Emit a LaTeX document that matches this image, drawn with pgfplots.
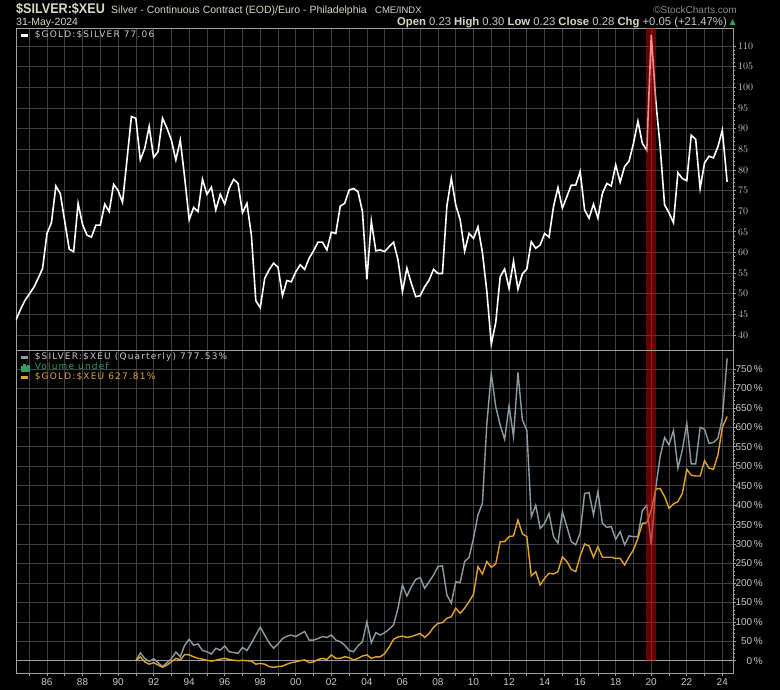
\documentclass[border=0pt]{standalone}
\usepackage{fontspec}
\setmainfont{Liberation Sans}
\newfontfamily\titlefont[FakeStretch=0.9]{Liberation Sans}
\newfontfamily\legfont[LetterSpace=13]{DejaVu Sans}
\newfontfamily\djv{DejaVu Sans}
\usepackage{pgfplots}
\pgfplotsset{compat=1.18}
\usepackage{pgfplotstable}

\definecolor{gridc}{HTML}{404040}
\definecolor{framec}{HTML}{A0A0A0}
\definecolor{lblc}{HTML}{C8C8BE}
\definecolor{silverc}{HTML}{8C9CA4}
\definecolor{goldc}{HTML}{E2A42A}
\definecolor{bandc}{HTML}{E60000}
\definecolor{volc}{HTML}{2E9E62}
\definecolor{hdrc}{HTML}{D8D8C4}
\definecolor{valc}{HTML}{C8C8C8}
\definecolor{copyc}{HTML}{8A8A8A}

\pgfplotstableread{
x y
1984.25 43.6
1984.50 46.1
1984.75 48.3
1985.00 49.9
1985.25 51.5
1985.50 53.7
1985.75 56.1
1986.00 64.6
1986.25 67.2
1986.50 76.1
1986.75 74.2
1987.00 67.5
1987.25 60.8
1987.50 60.2
1987.75 71.9
1988.00 66.8
1988.25 64.2
1988.50 63.7
1988.75 66.6
1989.00 66.6
1989.25 71.7
1989.50 69.9
1989.75 76.5
1990.00 75.0
1990.25 72.1
1990.50 82.4
1990.75 92.9
1991.00 92.5
1991.25 82.4
1991.50 85.2
1991.75 90.5
1992.00 83.0
1992.25 84.4
1992.50 92.5
1992.75 90.1
1993.00 87.2
1993.25 82.4
1993.50 87.2
1993.75 78.0
1994.00 67.9
1994.25 70.9
1994.50 69.9
1994.75 77.7
1995.00 74.1
1995.25 75.8
1995.50 70.3
1995.75 74.1
1996.00 71.7
1996.25 75.5
1996.50 77.7
1996.75 76.7
1997.00 69.6
1997.25 71.9
1997.50 64.2
1997.75 48.3
1998.00 46.6
1998.25 53.7
1998.50 55.8
1998.75 57.4
1999.00 56.4
1999.25 49.5
1999.50 53.2
1999.75 52.9
2000.00 55.3
2000.25 57.0
2000.50 55.9
2000.75 58.6
2001.00 60.4
2001.25 62.5
2001.50 62.5
2001.75 60.6
2002.00 64.9
2002.25 64.6
2002.50 71.2
2002.75 71.9
2003.00 75.1
2003.25 75.5
2003.50 74.7
2003.75 69.9
2004.00 53.5
2004.25 67.6
2004.50 60.4
2004.75 60.6
2005.00 60.2
2005.25 61.4
2005.50 62.5
2005.75 58.2
2006.00 50.5
2006.25 56.2
2006.50 52.5
2006.75 49.3
2007.00 49.5
2007.25 51.7
2007.50 53.3
2007.75 55.9
2008.00 54.9
2008.25 54.9
2008.50 71.2
2008.75 78.0
2009.00 71.5
2009.25 67.9
2009.50 60.3
2009.75 64.6
2010.00 63.4
2010.25 66.2
2010.50 60.0
2010.75 50.5
2011.00 37.8
2011.25 43.0
2011.50 54.1
2011.75 56.0
2012.00 51.3
2012.25 57.9
2012.50 51.1
2012.75 54.8
2013.00 56.0
2013.25 62.6
2013.50 61.0
2013.75 61.8
2014.00 64.6
2014.25 63.7
2014.50 71.1
2014.75 75.7
2015.00 70.7
2015.25 73.5
2015.50 76.3
2015.75 76.3
2016.00 79.6
2016.25 70.3
2016.50 68.3
2016.75 71.7
2017.00 68.3
2017.25 74.3
2017.50 76.7
2017.75 76.1
2018.00 81.2
2018.25 77.0
2018.50 80.8
2018.75 82.1
2019.00 86.4
2019.25 91.8
2019.50 86.4
2019.75 84.8
2020.00 112.7
2020.25 96.9
2020.50 85.6
2020.75 71.5
2021.00 69.6
2021.25 67.2
2021.50 79.3
2021.75 77.9
2022.00 77.4
2022.25 88.4
2022.50 87.4
2022.75 75.5
2023.00 81.7
2023.25 83.3
2023.50 82.9
2023.75 85.6
2024.00 89.6
2024.27 77.06
}\ratio

\pgfplotstableread{
x s g
1991.00 0 0
1991.25 20 10
1991.50 6 -3
1991.75 -2 -9
1992.00 5 -5
1992.25 -5 -11
1992.50 -15 -17
1992.75 -5 -11
1993.00 5 -3
1993.25 22 6
1993.50 10 2
1993.75 40 16
1994.00 55 15
1994.25 40 10
1994.50 43 6
1994.75 26 4
1995.00 23 1
1995.25 17 -1
1995.50 32 1
1995.75 27 4
1996.00 38 6
1996.25 23 3
1996.50 21 1
1996.75 19 0
1997.00 34 1
1997.25 26 0
1997.50 45 -1
1997.75 66 -9
1998.00 86 -7
1998.25 66 -9
1998.50 46 -15
1998.75 32 -17
1999.00 43 -15
1999.25 57 -14
1999.50 63 -9
1999.75 66 -5
2000.00 62 -3
2000.25 69 0
2000.50 75 2
2000.75 53 -5
2001.00 53 -3
2001.25 57 3
2001.50 62 6
2001.75 60 3
2002.00 66 15
2002.25 53 6
2002.50 49 6
2002.75 40 10
2003.00 26 8
2003.25 23 2
2003.50 38 6
2003.75 49 12
2004.00 100 15
2004.25 46 6
2004.50 72 10
2004.75 66 10
2005.00 72 18
2005.25 81 35
2005.50 92 55
2005.75 135 61
2006.00 195 63
2006.25 166 60
2006.50 190 62
2006.75 209 66
2007.00 214 70
2007.25 186 60
2007.50 203 70
2007.75 220 86
2008.00 242 96
2008.25 244 98
2008.50 169 109
2008.75 148 113
2009.00 203 135
2009.25 201 122
2009.50 255 135
2009.75 266 152
2010.00 315 171
2010.25 375 242
2010.50 405 223
2010.75 610 255
2011.00 739 240
2011.25 653 249
2011.50 606 306
2011.75 569 306
2012.00 655 319
2012.25 576 321
2012.50 741 362
2012.75 619 326
2013.00 592 319
2013.25 370 218
2013.50 400 229
2013.75 340 195
2014.00 353 212
2014.25 379 225
2014.50 319 223
2014.75 302 229
2015.00 383 267
2015.25 345 255
2015.50 306 235
2015.75 298 229
2016.00 328 269
2016.25 430 300
2016.50 432 295
2016.75 375 266
2017.00 435 293
2017.25 353 266
2017.50 343 266
2017.75 345 266
2018.00 312 263
2018.25 332 263
2018.50 298 246
2018.75 321 267
2019.00 319 285
2019.25 319 315
2019.50 386 353
2019.75 400 355
2020.00 298 387
2020.25 443 441
2020.50 525 443
2020.75 574 422
2021.00 555 392
2021.25 592 403
2021.50 495 409
2021.75 542 430
2022.00 610 492
2022.25 506 477
2022.50 506 475
2022.75 600 475
2023.00 595 514
2023.25 559 495
2023.50 561 492
2023.75 572 529
2024.00 623 600
2024.27 777.5 627.8
}\metals

\pgfplotsset{chartbase/.style={
  scale only axis, width=717bp, height=322bp,
  xmin=1984.256, xmax=2024.60,
  axis line style={framec, line width=0.8bp},
  grid=major, major grid style={gridc, line width=0.6bp},
  xtick={1985,...,2024},
  ytick pos=right, yticklabel pos=right,
  tick align=outside,
  major tick length=3bp, minor tick length=1.5bp,
  tick style={framec, line width=0.6bp},
  ticklabel style={font=\fontsize{10bp}{12bp}\selectfont, text=lblc},
  legend cell align=left,
  legend style={at={(0,1)}, anchor=north west, draw=none, fill=none,
    inner sep=0pt, font=\legfont\fontsize{9bp}{10bp}\selectfont,
    nodes={inner sep=0pt, text height=6.5bp, text depth=3.5bp},
    /tikz/every odd column/.append style={column sep=5bp}},
  legend image code/.code={\draw[##1, line width=2.6bp] (0bp,0bp) -- (7bp,0bp);},
}}

\begin{document}
\begin{tikzpicture}
\path[use as bounding box, fill=black] (0,0) rectangle (780bp,690bp);

% ---------- top panel ----------
\begin{axis}[chartbase, at={(16bp,339.5bp)}, anchor=south west,
  ymin=36.25, ymax=114.24, ytick={40,45,...,110},
  minor y tick num=4,
  xticklabels={}, x tick style={draw=none},
  yticklabel style={anchor=west, inner sep=0pt, xshift=2bp},
  legend style={xshift=4bp, yshift=-2bp}]
\addplot[white, line width=1.6bp] table[x=x, y=y] {\ratio};
\addlegendentry[text=valc]{\$GOLD:\$SILVER 77.06}
\fill[bandc, opacity=0.45] (axis cs:2019.72,36.25) rectangle (axis cs:2020.24,114.24);
\end{axis}

% ---------- bottom panel ----------
\begin{axis}[chartbase, at={(16bp,16.7bp)}, anchor=south west, height=322.8bp,
  ymin=-32.4, ymax=797.6, ytick={0,50,...,750},
  yticklabels={0\,\%,50\,\%,100\,\%,150\,\%,200\,\%,250\,\%,300\,\%,350\,\%,400\,\%,450\,\%,500\,\%,550\,\%,600\,\%,650\,\%,700\,\%,750\,\%},
  minor y tick num=4, minor x tick num=3,
  xtick pos=bottom,
  xticklabels={,86,,88,,90,,92,,94,,96,,98,,00,,02,,04,,06,,08,,10,,12,,14,,16,,18,,20,,22,,24},
  xticklabel style={anchor=north, inner sep=0pt, yshift=-2bp},
  yticklabel style={anchor=east, inner sep=0pt, xshift=27bp},
  legend style={xshift=4bp, yshift=-2bp}]
\addplot[framec, line width=0.8bp, forget plot] coordinates {(1984.256,0) (2024.6,0)};
\addplot[silverc, line width=1.4bp] table[x=x, y=s] {\metals};
\addlegendentry[text=valc]{\$SILVER:\$XEU (Quarterly) 777.53\%}
\addlegendimage{legend image code/.code={
  \fill[volc] (0bp,-3.5bp) rectangle (1.3bp,2bp);
  \fill[volc] (2bp,-3.5bp) rectangle (3.3bp,3.5bp);
  \fill[volc] (4bp,-3.5bp) rectangle (5.3bp,1.5bp);
  \fill[volc] (6bp,-3.5bp) rectangle (7.3bp,2.8bp);}}
\addlegendentry[text=volc]{Volume undef}
\addplot[goldc, line width=1.4bp] table[x=x, y=g] {\metals};
\addlegendentry[text=goldc]{\$GOLD:\$XEU 627.81\%}
\fill[bandc, opacity=0.45] (axis cs:2019.72,0) rectangle (axis cs:2020.24,797.6);
\end{axis}

% ---------- header ----------
\node[anchor=base west, inner sep=0pt, text=hdrc, font=\titlefont\bfseries\fontsize{14bp}{16bp}\selectfont] at (16bp,676bp) {\$SILVER:\$XEU};
\node[anchor=base west, inner sep=0pt, text=hdrc, font=\fontsize{10.5bp}{12bp}\selectfont] at (111bp,676bp) {Silver - Continuous Contract (EOD)/Euro - Philadelphia};
\node[anchor=base west, inner sep=0pt, text=hdrc, font=\fontsize{9.5bp}{11bp}\selectfont] at (375bp,676bp) {CME/INDX};
\node[anchor=base east, inner sep=0pt, text=copyc, font=\fontsize{10bp}{12bp}\selectfont] at (737bp,676bp) {©StockCharts.com};
\node[anchor=base west, inner sep=0pt, text=hdrc, font=\fontsize{10.5bp}{12bp}\selectfont] at (16bp,664bp) {31-May-2024};
\node[anchor=base east, inner sep=0pt, text=valc, font=\fontsize{11.3bp}{13bp}\selectfont] at (727bp,664bp) {{\color{hdrc}\bfseries Open} 0.23 {\color{hdrc}\bfseries High} 0.30 {\color{hdrc}\bfseries Low} 0.23 {\color{hdrc}\bfseries Close} 0.28 {\color{hdrc}\bfseries Chg} +0.05 (+21.47\%)};
\node[anchor=base west, inner sep=0pt, text=volc, font=\djv\fontsize{8bp}{9bp}\selectfont] at (729.5bp,665bp) {▲};
\end{tikzpicture}
\end{document}
